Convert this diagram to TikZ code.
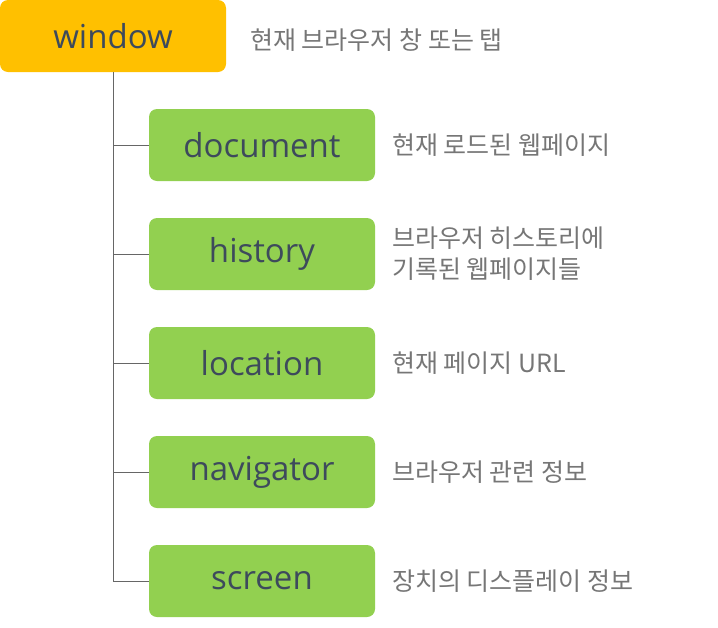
\documentclass[tikz,border=0pt]{standalone}
\usepackage{fontspec}
\setmainfont{Open Sans}
\newfontfamily\kr{Noto Sans CJK KR}
\definecolor{orng}{HTML}{FFC000}
\definecolor{grn}{HTML}{92D050}
\definecolor{txt}{HTML}{3D4A5C}
\definecolor{desc}{HTML}{767676}
\definecolor{ln}{HTML}{666666}
\begin{document}
\begin{tikzpicture}[x=1pt,y=-1pt,
  boxw/.style={rounded corners=8pt,minimum width=226pt,minimum height=72pt,inner sep=0pt,text=txt,font=\fontsize{33}{36}\selectfont},
  ws/.style={boxw,fill=orng},
  gs/.style={boxw,fill=grn},
  dsc/.style={anchor=west,text=desc,font=\kr\fontsize{25}{31}\selectfont,align=left,inner sep=0pt},
  conn/.style={draw=ln,line width=1pt}]
\useasboundingbox (0,0) rectangle (718,627);
\node[ws] (w) at (113,36) {window};
\node[dsc] (dw) at (250,40) {현재 브라우저 창 또는 탭};
\foreach \n/\t/\y/\d in {a/document/145/현재 로드된 웹페이지,b/history/254/{브라우저 히스토리에\\기록된 웹페이지들},c/location/363/현재 페이지 URL,d/navigator/472/브라우저 관련 정보,e/screen/581/장치의 디스플레이 정보}{
  \node[gs] (\n) at (262,\y) {\t};
  \node[dsc] (d\n) at (392,\y) {\d};
  \draw[conn] (w.south -| 113,0) |- (\n.west);
}
\end{tikzpicture}
\end{document}
